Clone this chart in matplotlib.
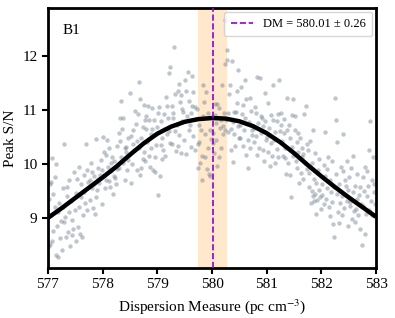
import numpy as np
import matplotlib
matplotlib.use("Agg")
import matplotlib.pyplot as plt

plt.rcParams['font.family'] = ['Liberation Serif', 'DejaVu Serif']
plt.rcParams['mathtext.fontset'] = 'stix'

# fitted DM and its error
dm_best = 580.01
dm_err = 0.26

# smooth fit curve
fit_dm = [577.00, 577.25, 577.50, 577.75, 578.00, 578.25, 578.50, 578.75, 579.00,
          579.25, 579.50, 579.75, 580.00, 580.25, 580.50, 580.75, 581.00, 581.25,
          581.50, 581.75, 582.00, 582.25, 582.50, 582.75, 583.00]
fit_snr = [9.00, 9.18, 9.37, 9.56, 9.75, 9.95, 10.17, 10.38, 10.56,
           10.69, 10.78, 10.83, 10.85, 10.84, 10.79, 10.70, 10.57, 10.40,
           10.20, 9.98, 9.77, 9.57, 9.38, 9.20, 9.02]

# individual trial DMs (grey dots), one line per ~0.25 pc/cc
dm_obs = [
    577.01, 577.02, 577.03, 577.04, 577.05, 577.06, 577.07, 577.08, 577.09, 577.10, 577.12, 577.13, 577.14, 577.15, 577.17, 577.18, 577.19, 577.21, 577.22, 577.24,
    577.26, 577.27, 577.28, 577.29, 577.30, 577.32, 577.33, 577.34, 577.35, 577.36, 577.38, 577.39, 577.40, 577.42, 577.43, 577.44, 577.46, 577.47, 577.49,
    577.51, 577.52, 577.53, 577.55, 577.56, 577.57, 577.58, 577.60, 577.61, 577.62, 577.64, 577.65, 577.66, 577.68, 577.70, 577.71, 577.72, 577.74,
    577.76, 577.77, 577.78, 577.80, 577.81, 577.82, 577.84, 577.85, 577.86, 577.87, 577.88, 577.90, 577.91, 577.92, 577.94, 577.95, 577.97, 577.98, 577.99,
    578.01, 578.02, 578.03, 578.05, 578.06, 578.07, 578.08, 578.10, 578.11, 578.12, 578.13, 578.15, 578.16, 578.17, 578.19, 578.20, 578.21, 578.22, 578.24,
    578.26, 578.27, 578.29, 578.30, 578.31, 578.32, 578.33, 578.34, 578.35, 578.37, 578.38, 578.40, 578.41, 578.42, 578.43, 578.44, 578.46, 578.47, 578.49,
    578.50, 578.51, 578.52, 578.54, 578.55, 578.56, 578.58, 578.60, 578.61, 578.62, 578.63, 578.64, 578.66, 578.67, 578.68, 578.69, 578.70, 578.71, 578.73, 578.74,
    578.75, 578.76, 578.77, 578.78, 578.79, 578.80, 578.81, 578.83, 578.84, 578.85, 578.86, 578.88, 578.89, 578.90, 578.91, 578.92, 578.93, 578.95, 578.96, 578.98, 578.99,
    579.01, 579.02, 579.03, 579.04, 579.06, 579.07, 579.08, 579.09, 579.10, 579.12, 579.13, 579.14, 579.16, 579.17, 579.18, 579.19, 579.21, 579.22, 579.23, 579.24,
    579.26, 579.27, 579.28, 579.29, 579.31, 579.32, 579.33, 579.35, 579.36, 579.37, 579.38, 579.39, 579.40, 579.42, 579.43, 579.44, 579.45, 579.46, 579.47, 579.49,
    579.51, 579.52, 579.53, 579.55, 579.56, 579.57, 579.58, 579.59, 579.61, 579.62, 579.63, 579.64, 579.65, 579.66, 579.68, 579.69, 579.70, 579.72, 579.74,
    579.75, 579.76, 579.77, 579.78, 579.80, 579.81, 579.82, 579.83, 579.84, 579.86, 579.87, 579.88, 579.89, 579.90, 579.92, 579.93, 579.95, 579.96, 579.97, 579.99,
    580.01, 580.02, 580.03, 580.05, 580.06, 580.07, 580.08, 580.09, 580.10, 580.12, 580.13, 580.14, 580.16, 580.17, 580.19, 580.20, 580.21, 580.22, 580.23, 580.24,
    580.26, 580.27, 580.28, 580.29, 580.30, 580.31, 580.33, 580.34, 580.35, 580.36, 580.38, 580.39, 580.40, 580.41, 580.42, 580.43, 580.45, 580.46, 580.47, 580.48, 580.49,
    580.51, 580.52, 580.53, 580.55, 580.56, 580.57, 580.58, 580.60, 580.61, 580.62, 580.63, 580.65, 580.66, 580.67, 580.69, 580.70, 580.71, 580.73, 580.74,
    580.76, 580.77, 580.79, 580.80, 580.81, 580.82, 580.83, 580.85, 580.86, 580.88, 580.89, 580.90, 580.91, 580.93, 580.94, 580.95, 580.96, 580.97, 580.99,
    581.01, 581.02, 581.03, 581.05, 581.06, 581.07, 581.08, 581.10, 581.11, 581.12, 581.14, 581.15, 581.16, 581.18, 581.19, 581.20, 581.21, 581.23, 581.24,
    581.26, 581.27, 581.28, 581.29, 581.31, 581.32, 581.33, 581.34, 581.35, 581.37, 581.38, 581.39, 581.41, 581.42, 581.43, 581.44, 581.46, 581.47, 581.48, 581.49,
    581.51, 581.52, 581.53, 581.55, 581.56, 581.57, 581.58, 581.60, 581.61, 581.62, 581.64, 581.65, 581.66, 581.67, 581.69, 581.70, 581.71, 581.73, 581.74,
    581.76, 581.77, 581.78, 581.80, 581.81, 581.82, 581.83, 581.84, 581.85, 581.86, 581.87, 581.88, 581.89, 581.90, 581.91, 581.92, 581.94, 581.95, 581.96, 581.98, 581.99,
    582.01, 582.02, 582.04, 582.05, 582.06, 582.07, 582.09, 582.10, 582.11, 582.12, 582.14, 582.15, 582.16, 582.18, 582.19, 582.20, 582.21, 582.23, 582.24,
    582.25, 582.26, 582.27, 582.28, 582.29, 582.31, 582.32, 582.33, 582.34, 582.36, 582.37, 582.38, 582.39, 582.40, 582.42, 582.43, 582.45, 582.46, 582.47, 582.48, 582.49,
    582.51, 582.52, 582.53, 582.55, 582.56, 582.57, 582.58, 582.60, 582.61, 582.62, 582.63, 582.65, 582.66, 582.67, 582.69, 582.70, 582.71, 582.73, 582.74,
    582.76, 582.77, 582.78, 582.79, 582.80, 582.82, 582.83, 582.84, 582.86, 582.87, 582.88, 582.89, 582.90, 582.92, 582.93, 582.94, 582.96, 582.97, 582.99,
    580.245,
]
snr_obs = [
    9.35, 8.48, 9.62, 8.52, 9.66, 9.05, 10.11, 8.58, 9.45, 8.75, 9.20, 9.75, 8.32, 9.99, 8.85, 9.10, 8.28, 9.28, 8.62, 8.95,
    8.40, 9.55, 9.21, 8.92, 10.36, 9.02, 8.64, 9.58, 9.40, 8.74, 9.71, 9.10, 8.48, 9.32, 8.96, 8.68, 8.80, 9.85, 9.15,
    8.58, 9.46, 9.72, 8.83, 9.20, 9.95, 8.70, 9.38, 9.62, 8.65, 9.05, 9.80, 9.48, 9.28, 10.36, 9.89, 9.14, 9.66,
    9.70, 9.33, 10.02, 9.55, 9.85, 9.18, 9.62, 9.77, 9.08, 9.39, 10.47, 9.51, 9.72, 9.93, 9.64, 9.80, 10.07, 9.25, 9.88,
    10.49, 9.80, 10.22, 9.56, 10.17, 9.70, 10.44, 9.95, 10.30, 9.68, 9.58, 10.02, 9.86, 10.12, 9.45, 9.78, 10.05, 9.74, 9.62,
    10.33, 9.90, 10.58, 9.93, 10.43, 10.86, 11.17, 10.12, 10.64, 10.86, 10.02, 10.30, 9.70, 10.32, 10.22, 9.89, 10.48, 10.08, 10.17,
    11.31, 9.64, 10.52, 10.00, 10.62, 10.36, 10.25, 10.98, 10.74, 10.43, 9.89, 10.92, 11.51, 10.30, 9.80, 11.20, 10.48, 9.93, 10.69, 10.10,
    11.09, 10.22, 10.81, 10.05, 10.89, 10.64, 10.40, 11.07, 10.15, 10.81, 9.95, 10.30, 10.55, 10.64, 11.03, 9.88, 10.81, 10.12, 9.85, 10.35, 10.68,
    10.95, 9.43, 11.06, 9.78, 10.35, 10.79, 10.48, 10.10, 10.26, 10.92, 10.64, 10.15, 11.24, 11.07, 10.55, 10.86, 11.68, 10.61, 10.38, 11.80,
    10.36, 11.07, 10.86, 10.95, 12.17, 11.30, 10.61, 10.24, 10.72, 11.36, 10.33, 11.49, 10.54, 11.15, 11.27, 10.20, 11.02, 10.79, 10.96, 10.45,
    11.56, 11.35, 10.19, 10.88, 11.71, 10.62, 11.16, 10.73, 10.95, 10.32, 11.62, 11.08, 10.51, 11.33, 11.06, 10.26, 10.84, 11.02, 10.36,
    9.93, 10.72, 10.41, 10.02, 10.63, 9.70, 10.15, 11.46, 10.88, 11.15, 10.13, 10.55, 11.34, 9.90, 10.95, 10.30, 9.81, 9.77, 10.62, 10.46,
    10.38, 10.58, 10.20, 10.90, 11.11, 10.76, 10.45, 11.11, 9.96, 10.12, 11.03, 10.66, 10.82, 10.30, 11.46, 10.70, 10.55, 10.95, 11.86, 10.62,
    10.82, 12.11, 11.93, 10.94, 10.60, 11.29, 11.46, 10.64, 10.25, 11.91, 10.78, 10.04, 10.56, 10.96, 10.33, 10.97, 11.12, 11.36, 10.70, 11.74, 10.48,
    10.48, 10.72, 11.42, 10.92, 11.10, 10.33, 10.62, 10.85, 11.55, 11.20, 10.17, 10.45, 9.93, 10.78, 11.22, 10.30, 10.98, 10.62, 10.54,
    10.40, 10.66, 11.05, 10.95, 10.52, 11.61, 10.17, 10.75, 10.30, 11.59, 10.88, 10.58, 10.85, 10.70, 10.26, 10.05, 10.80, 11.31, 10.44,
    10.50, 10.22, 11.13, 10.66, 9.96, 10.38, 10.90, 10.14, 11.47, 10.81, 10.45, 10.02, 10.60, 10.79, 10.28, 10.92, 10.12, 11.56, 10.61,
    10.95, 10.72, 10.42, 10.15, 10.84, 10.57, 10.30, 10.11, 9.81, 11.22, 10.62, 10.02, 10.72, 9.80, 10.48, 9.38, 10.91, 10.31, 10.15, 11.20,
    10.89, 10.63, 10.05, 10.40, 9.92, 10.57, 10.22, 9.65, 10.48, 9.84, 10.30, 10.12, 10.18, 9.72, 10.92, 10.02, 11.07, 9.90, 10.36,
    10.25, 9.58, 9.84, 10.42, 9.28, 9.50, 10.02, 9.41, 10.63, 9.72, 9.31, 10.21, 9.45, 9.07, 9.65, 9.34, 9.88, 9.52, 10.10, 9.38, 9.16,
    9.62, 9.42, 9.98, 9.25, 10.60, 9.78, 9.35, 9.55, 9.90, 10.12, 9.20, 9.04, 9.70, 9.48, 9.30, 10.05, 8.88, 8.64, 9.58,
    11.23, 10.82, 9.81, 9.45, 10.41, 9.10, 9.62, 8.91, 9.28, 9.95, 9.05, 9.40, 9.87, 10.55, 9.18, 9.70, 9.59, 10.06, 9.32, 8.85, 9.52,
    9.75, 9.22, 9.30, 9.92, 8.98, 9.48, 10.15, 9.12, 9.60, 8.92, 9.16, 9.35, 9.82, 9.05, 9.42, 8.80, 9.58, 9.25, 8.50,
    9.75, 9.22, 9.50, 8.70, 9.95, 9.07, 9.87, 9.41, 9.60, 9.15, 10.25, 10.80, 9.32, 9.70, 9.05, 10.12, 9.48, 9.62, 9.25,
    12.67,
]

fig = plt.figure(figsize=(3.95, 3.18), dpi=100)
ax = fig.add_axes([0.1215, 0.157, 0.8305, 0.818])

ax.axvspan(dm_best - dm_err, dm_best + dm_err, color='darkorange', alpha=0.2, lw=0, zorder=1)
ax.scatter(dm_obs, snr_obs, s=10, color='slategray', alpha=0.45, lw=0, zorder=2)
ax.plot(fit_dm, fit_snr, color='black', lw=3.2, solid_capstyle='butt', zorder=3)
ax.axvline(dm_best, color='darkviolet', ls='--', lw=1.2, zorder=4,
           label='DM = {:.2f} \u00b1 {:.2f}'.format(dm_best, dm_err))

ax.set_xlim(577, 583)
ax.set_ylim(8.07, 12.89)
ax.set_xticks([577, 578, 579, 580, 581, 582, 583])
ax.set_yticks([9, 10, 11, 12])
ax.set_xlabel('Dispersion Measure (pc cm$^{-3}$)', fontsize=11)
ax.set_ylabel('Peak S/N', fontsize=11)
ax.tick_params(labelsize=11, width=1.5, length=4)
for sp in ax.spines.values():
    sp.set_linewidth(2)

ax.text(0.045, 0.915, 'B1', transform=ax.transAxes, fontsize=11, va='center')
ax.legend(loc='upper right', fontsize=9, handlelength=1.8, borderpad=0.5,
          handletextpad=0.8, borderaxespad=0.3)

fig.savefig('out.png', dpi=100)
